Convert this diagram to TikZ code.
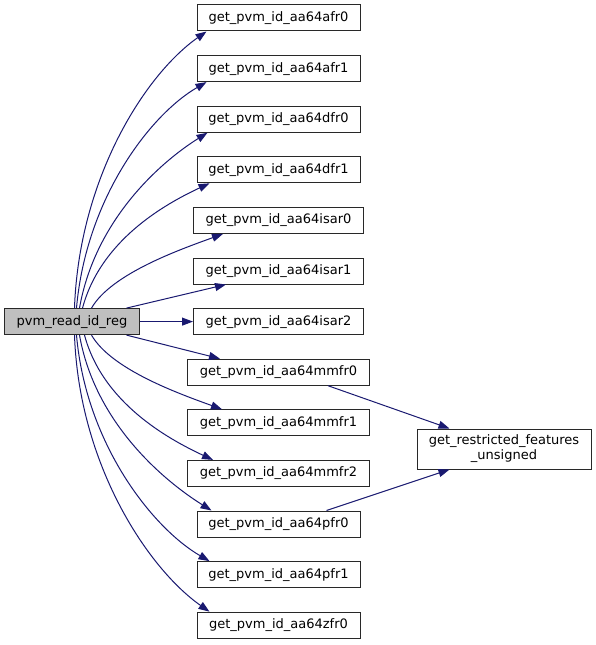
\documentclass[tikz,border=0pt]{standalone}
\usepackage{fontspec}
\setmainfont{DejaVu Sans}
\usetikzlibrary{arrows.meta}
\definecolor{edgecol}{RGB}{25,25,112}
\definecolor{maingray}{RGB}{191,191,191}
\definecolor{boxline}{RGB}{40,40,40}
\begin{document}
\begin{tikzpicture}[x=1bp,y=1bp,
  box/.style={draw=boxline, line width=1bp, fill=white, minimum height=26bp, inner sep=0pt,
    font=\fontsize{13bp}{15bp}\selectfont, align=center},
  link/.style={draw=edgecol, line width=1bp, -{Triangle[length=11bp,width=8bp]}}]
\useasboundingbox (0,0) rectangle (596,-645);
\node[box, fill=maingray, minimum width=135bp] (main) at (72,-321.6) {pvm\_read\_id\_reg};
\node[box, minimum width=163bp] (afr0)  at (278.5,-18)    {get\_pvm\_id\_aa64afr0};
\node[box, minimum width=163bp] (afr1)  at (278.5,-68.6)  {get\_pvm\_id\_aa64afr1};
\node[box, minimum width=163bp] (dfr0)  at (278.5,-119.2) {get\_pvm\_id\_aa64dfr0};
\node[box, minimum width=163bp] (dfr1)  at (278.5,-169.8) {get\_pvm\_id\_aa64dfr1};
\node[box, minimum width=170bp] (isar0) at (278.5,-220.4) {get\_pvm\_id\_aa64isar0};
\node[box, minimum width=170bp] (isar1) at (278.5,-271)   {get\_pvm\_id\_aa64isar1};
\node[box, minimum width=170bp] (isar2) at (278.5,-321.6) {get\_pvm\_id\_aa64isar2};
\node[box, minimum width=182bp] (mmfr0) at (278.5,-372.2) {get\_pvm\_id\_aa64mmfr0};
\node[box, minimum width=182bp] (mmfr1) at (278.5,-422.8) {get\_pvm\_id\_aa64mmfr1};
\node[box, minimum width=182bp] (mmfr2) at (278.5,-473.4) {get\_pvm\_id\_aa64mmfr2};
\node[box, minimum width=163bp] (pfr0)  at (278.5,-524)   {get\_pvm\_id\_aa64pfr0};
\node[box, minimum width=163bp] (pfr1)  at (278.5,-574.6) {get\_pvm\_id\_aa64pfr1};
\node[box, minimum width=163bp] (zfr0)  at (278.5,-625.2) {get\_pvm\_id\_aa64zfr0};
\node[box, minimum width=174bp, minimum height=40bp] (restr) at (504,-449) {get\_restricted\_features\\\_unsigned};
% edges upward
\draw[link] ([xshift=70.5bp]main.north west) to[out=88,in=-145,out distance=130bp,in distance=75bp] ([xshift=10bp]afr0.south west);
\draw[link] ([xshift=72.5bp]main.north west) to[out=85,in=-150,out distance=110bp,in distance=65bp] ([xshift=10bp]afr1.south west);
\draw[link] ([xshift=75.5bp]main.north west) to[out=80,in=-148,out distance=90bp,in distance=55bp] ([xshift=11bp]dfr0.south west);
\draw[link] ([xshift=78.5bp]main.north west) to[out=75,in=-155,out distance=70bp,in distance=50bp] ([xshift=13bp]dfr1.south west);
\draw[link] ([xshift=87.5bp]main.north west) to[out=60,in=-160,out distance=40bp,in distance=45bp] ([xshift=30bp]isar0.south west);
\draw[link] ([xshift=122.5bp]main.north west) -- ([xshift=33bp]isar1.south west);
\draw[link] (main.east) -- (isar2.west);
% edges downward
\draw[link] ([xshift=122.5bp]main.south west) -- ([xshift=33bp]mmfr0.north west);
\draw[link] ([xshift=87.5bp]main.south west) to[out=-60,in=160,out distance=40bp,in distance=45bp] ([xshift=35bp]mmfr1.north west);
\draw[link] ([xshift=80.5bp]main.south west) to[out=-75,in=155,out distance=70bp,in distance=50bp] ([xshift=26bp]mmfr2.north west);
\draw[link] ([xshift=75.5bp]main.south west) to[out=-80,in=148,out distance=90bp,in distance=55bp] ([xshift=15bp]pfr0.north west);
\draw[link] ([xshift=72.5bp]main.south west) to[out=-85,in=150,out distance=110bp,in distance=65bp] ([xshift=13bp]pfr1.north west);
\draw[link] ([xshift=70.5bp]main.south west) to[out=-88,in=145,out distance=130bp,in distance=75bp] ([xshift=13bp]zfr0.north west);
% edges to restricted
\draw[link] ([xshift=141bp]mmfr0.south west) -- ([xshift=33bp]restr.north west);
\draw[link] ([xshift=130bp]pfr0.north west) -- ([xshift=33bp]restr.south west);
\end{tikzpicture}
\end{document}
